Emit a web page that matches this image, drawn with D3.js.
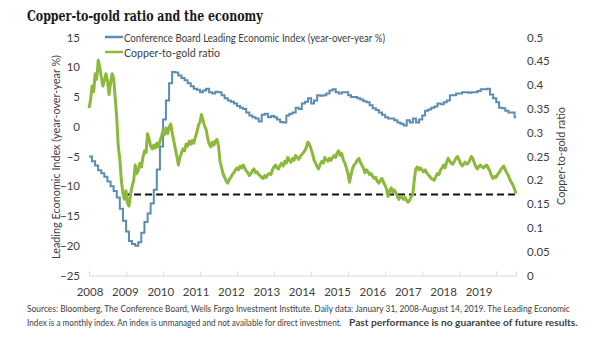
<!DOCTYPE html>
<html>
<head>
<meta charset="utf-8">
<script src="https://cdn.jsdelivr.net/npm/d3@7"></script>
<style>
    body { margin: 0; background: #fff; }
    svg { display: block; }
    text { font-family: Lato, "Liberation Sans", sans-serif; fill: #404040; }
</style>
</head>
<body>
<svg id="chart" width="605" height="341"></svg>
<script>
// Daily series span
const startDate = "2008-01-31";
const endDate = "2019-08-14";

// Conference Board LEI, year-over-year %, one value per month from Jan 2008
const leiValues = [
    -5.0, -5.8, -6.5, -7.3, -7.8, -8.4, -9.2, -10.0, -10.8, -11.9, -13.8, -15.8,
    -17.6, -19.2, -19.7, -20.0, -19.4, -17.8, -16.0, -14.6, -12.9, -10.6, -7.2, -3.3,
    1.2, 4.4, 7.3, 9.2, 9.1, 8.6, 8.2, 7.8, 7.3, 6.8, 6.4, 6.2,
    5.8, 6.1, 6.4, 5.8, 5.6, 5.9, 5.8, 5.3, 4.8, 4.4, 4.2, 3.9,
    3.5, 3.2, 3.0, 2.4, 1.9, 1.6, 1.4, 0.9, 2.0, 2.2, 1.6, 1.8,
    1.6, 1.2, 0.8, 0.7, 1.9, 2.2, 2.4, 3.2, 3.0, 3.9, 4.2, 4.8,
    3.9, 4.4, 5.3, 5.2, 5.3, 5.6, 6.1, 6.3, 5.8, 5.6, 5.8, 5.8,
    5.3, 5.0, 5.0, 4.8, 4.6, 4.3, 4.1, 3.6, 3.1, 2.8, 2.4, 2.0,
    1.6, 1.4, 1.4, 1.1, 0.7, 0.5, 0.2, 1.1, 0.7, 1.4, 0.7, 1.2,
    1.9, 2.7, 2.9, 3.2, 3.4, 3.9, 3.8, 4.1, 4.4, 5.3, 5.3, 5.6,
    5.6, 5.8, 5.8, 5.7, 5.8, 5.8, 6.0, 6.3, 6.3, 6.4, 5.4, 4.8,
    4.1, 3.2, 3.1, 2.7, 2.4, 2.4, 1.6
];

// Copper-to-gold ratio, sampled twice a month over the span
const ratioValues = [
    0.352, 0.368, 0.398, 0.386, 0.424, 0.412, 0.452, 0.438, 0.416, 0.398, 0.41, 0.424,
    0.408, 0.38, 0.405, 0.424, 0.414, 0.372, 0.33, 0.27, 0.245, 0.20, 0.172, 0.16,
    0.178, 0.152, 0.146, 0.172, 0.188, 0.2, 0.232, 0.214, 0.222, 0.236, 0.228, 0.248,
    0.262, 0.258, 0.298, 0.286, 0.272, 0.266, 0.274, 0.268, 0.278, 0.27, 0.282, 0.292,
    0.305, 0.296, 0.31, 0.298, 0.312, 0.318, 0.3, 0.282, 0.266, 0.25, 0.232, 0.248,
    0.258, 0.266, 0.262, 0.276, 0.272, 0.282, 0.276, 0.284, 0.278, 0.29, 0.302, 0.316,
    0.322, 0.338, 0.326, 0.314, 0.306, 0.288, 0.276, 0.27, 0.28, 0.274, 0.282, 0.286,
    0.272, 0.24, 0.226, 0.214, 0.206, 0.198, 0.194, 0.202, 0.206, 0.212, 0.216, 0.222,
    0.226, 0.222, 0.23, 0.226, 0.232, 0.226, 0.22, 0.216, 0.21, 0.214, 0.22, 0.224,
    0.216, 0.218, 0.212, 0.21, 0.206, 0.204, 0.21, 0.206, 0.212, 0.214, 0.212, 0.222,
    0.228, 0.232, 0.226, 0.224, 0.232, 0.236, 0.23, 0.24, 0.236, 0.248, 0.242, 0.238,
    0.246, 0.242, 0.252, 0.248, 0.244, 0.25, 0.254, 0.258, 0.262, 0.27, 0.28, 0.276,
    0.266, 0.256, 0.242, 0.236, 0.228, 0.224, 0.234, 0.24, 0.236, 0.248, 0.244, 0.24,
    0.246, 0.242, 0.248, 0.252, 0.248, 0.258, 0.262, 0.252, 0.256, 0.242, 0.236, 0.226,
    0.214, 0.196, 0.212, 0.226, 0.232, 0.236, 0.242, 0.246, 0.238, 0.232, 0.226, 0.216,
    0.222, 0.218, 0.212, 0.214, 0.208, 0.204, 0.206, 0.198, 0.194, 0.2, 0.204, 0.196,
    0.19, 0.182, 0.166, 0.178, 0.184, 0.176, 0.18, 0.174, 0.166, 0.16, 0.166, 0.164,
    0.16, 0.164, 0.158, 0.154, 0.158, 0.166, 0.17, 0.2, 0.224, 0.228, 0.222, 0.226,
    0.222, 0.218, 0.222, 0.216, 0.212, 0.208, 0.204, 0.202, 0.2, 0.208, 0.214, 0.212,
    0.222, 0.226, 0.232, 0.226, 0.238, 0.246, 0.24, 0.236, 0.234, 0.24, 0.246, 0.25,
    0.244, 0.236, 0.23, 0.234, 0.238, 0.234, 0.236, 0.242, 0.25, 0.246, 0.236, 0.228,
    0.224, 0.23, 0.232, 0.228, 0.226, 0.23, 0.232, 0.226, 0.22, 0.21, 0.204, 0.208,
    0.206, 0.212, 0.216, 0.222, 0.226, 0.23, 0.222, 0.216, 0.21, 0.202, 0.196, 0.19,
    0.182, 0.172
];

// Dashed reference level on the ratio axis
const ratioFloor = 0.17;
const ratioFloorStart = "2009-01-01";

const years = [2008, 2009, 2010, 2011, 2012, 2013, 2014, 2015, 2016, 2017, 2018, 2019];
const leftTicks = [-25, -20, -15, -10, -5, 0, 5, 10, 15];
const rightTicks = [0, 0.05, 0.1, 0.15, 0.2, 0.25, 0.3, 0.35, 0.4, 0.45, 0.5];

const seriesNames = ["Conference Board Leading Economic Index (year-over-year %)", "Copper-to-gold ratio"];
const colors = ["#5b8cb3", "#8cb83c"];

const parse = d3.timeParse("%Y-%m-%d");
const t0 = parse(startDate), t1 = parse(endDate);

var svg = d3.select("#chart");

var margin = { left: 89, right: 516, top: 37.5, bottom: 275.5 };

var x = d3.scaleTime().domain([t0, t1]).range([margin.left, margin.right]);
var yLeft = d3.scaleLinear().domain([-25, 15]).range([margin.bottom, margin.top]);
var yRight = d3.scaleLinear().domain([0, 0.5]).range([margin.bottom, margin.top]);

// build dated series
var lei = leiValues.map(function (v, m) {
    return { date: new Date(2008, m + 1, 0), value: v };
});
// hold the last monthly value out to the end of the daily span
lei.push({ date: t1, value: leiValues[leiValues.length - 1] });

var span = d3.timeDay.count(t0, t1);
var ratio = ratioValues.map(function (v, i) {
    return { date: d3.timeDay.offset(t0, Math.round(i * span / (ratioValues.length - 1))), value: v };
});

// squeeze a text horizontally so it spans the given width from (px, py)
function fitText(sel, px, py, width) {
    var w = sel.node().getComputedTextLength();
    sel.attr("x", 0).attr("y", 0)
        .attr("transform", "translate(" + px + "," + py + ") scale(" + (width / w) + ",1)");
}

// Title
var title = svg.append("text")
    .style("font-family", "'DejaVu Serif', serif")
    .style("font-weight", "bold")
    .style("font-size", "14.5px")
    .style("fill", "#1a1a1a")
    .text("Copper-to-gold ratio and the economy");
fitText(title, 27, 21, 236);

// x axis: line with year ticks
var xAxis = svg.append("g")
    .attr("transform", "translate(0," + margin.bottom + ")")
    .call(d3.axisBottom(x)
        .tickValues(years.map(function (y) { return new Date(y, 0, 31); }))
        .tickSize(-4)
        .tickFormat(""));
xAxis.selectAll("path, line").attr("stroke", "#d9d9d9");

// year labels
var yearPos = d3.scalePoint().domain(years).range([90, 479]);
svg.append("g")
    .selectAll("text")
    .data(years)
    .enter()
    .append("text")
    .attr("x", function (d) { return yearPos(d); })
    .attr("y", 291)
    .attr("text-anchor", "middle")
    .attr("dominant-baseline", "central")
    .style("font-size", "11.5px")
    .text(function (d) { return d; });

// left axis
var leftAxis = svg.append("g")
    .attr("transform", "translate(" + margin.left + ",0)")
    .call(d3.axisLeft(yLeft).tickValues(leftTicks).tickSize(0).tickPadding(9));
leftAxis.select(".domain").remove();
leftAxis.selectAll("text").style("font-size", "11.5px").style("fill", "#404040").style("font-family", "Lato, sans-serif");

// right axis
var rightAxis = svg.append("g")
    .attr("transform", "translate(" + margin.right + ",0)")
    .call(d3.axisRight(yRight).tickValues(rightTicks).tickSize(0).tickPadding(11)
        .tickFormat(function (d) { return String(+d.toFixed(2)); }));
rightAxis.select(".domain").remove();
rightAxis.selectAll("text").style("font-size", "11.5px").style("fill", "#404040").style("font-family", "Lato, sans-serif");

// axis titles
svg.append("text")
    .attr("transform", "translate(55,157) rotate(-90)")
    .attr("text-anchor", "middle")
    .attr("dominant-baseline", "central")
    .attr("textLength", 204)
    .attr("lengthAdjust", "spacingAndGlyphs")
    .style("font-size", "11.5px")
    .text("Leading Economic Index (year-over-year %)");

svg.append("text")
    .attr("transform", "translate(560,156) rotate(-90)")
    .attr("text-anchor", "middle")
    .attr("dominant-baseline", "central")
    .attr("textLength", 98)
    .attr("lengthAdjust", "spacingAndGlyphs")
    .style("font-size", "11.5px")
    .text("Copper-to-gold ratio");

// dashed level
svg.append("line")
    .attr("x1", x(parse(ratioFloorStart)))
    .attr("x2", x(t1))
    .attr("y1", yRight(ratioFloor))
    .attr("y2", yRight(ratioFloor))
    .attr("stroke", "#111")
    .attr("stroke-width", 2)
    .attr("stroke-dasharray", "7 4");

// series lines
var leiLine = d3.line()
    .x(function (d) { return x(d.date); })
    .y(function (d) { return yLeft(d.value); })
    .curve(d3.curveStepAfter);

var ratioLine = d3.line()
    .x(function (d) { return x(d.date); })
    .y(function (d) { return yRight(d.value); });

svg.append("path")
    .datum(lei)
    .attr("d", leiLine)
    .attr("fill", "none")
    .attr("stroke", colors[0])
    .attr("stroke-width", 2);

svg.append("path")
    .datum(ratio)
    .attr("d", ratioLine)
    .attr("fill", "none")
    .attr("stroke", colors[1])
    .attr("stroke-width", 3)
    .attr("stroke-linejoin", "round");

// legend
var legend = svg.append("g").classed("legend", true);
var legendRows = [37, 52];
var legendLengths = [261, 96];
legend.selectAll("line")
    .data(seriesNames)
    .enter()
    .append("line")
    .attr("x1", 105)
    .attr("x2", 123)
    .attr("y1", function (d, i) { return legendRows[i]; })
    .attr("y2", function (d, i) { return legendRows[i]; })
    .attr("stroke", function (d, i) { return colors[i]; })
    .attr("stroke-width", 2.5);
legend.selectAll("text")
    .data(seriesNames)
    .enter()
    .append("text")
    .attr("x", 124)
    .attr("y", function (d, i) { return legendRows[i]; })
    .attr("dominant-baseline", "central")
    .attr("textLength", function (d, i) { return legendLengths[i]; })
    .attr("lengthAdjust", "spacingAndGlyphs")
    .style("font-size", "11.5px")
    .text(function (d) { return d; });

// source notes
var notes = svg.append("g").style("font-size", "9.5px");
fitText(notes.append("text")
    .text("Sources: Bloomberg, The Conference Board, Wells Fargo Investment Institute. Daily data: January 31, 2008-August 14, 2019. The Leading Economic"),
    27, 312, 543);
fitText(notes.append("text")
    .text("Index is a monthly index.  An index is unmanaged and not available for direct investment."),
    27, 325.5, 315);
fitText(notes.append("text")
    .style("font-weight", "bold")
    .text("Past performance is no guarantee of future results."),
    349, 325.5, 229);
</script>
</body>
</html>
